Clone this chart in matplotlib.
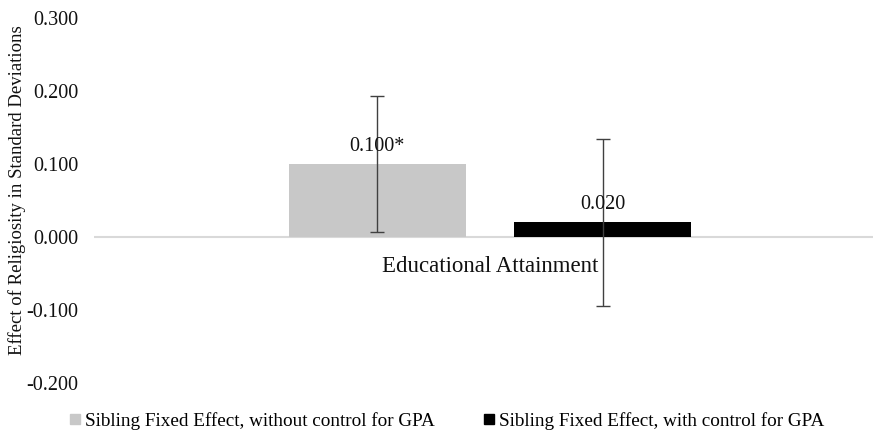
import matplotlib
matplotlib.use("Agg")
import matplotlib.pyplot as plt
from matplotlib.lines import Line2D

plt.rcParams['font.family'] = ['Liberation Serif', 'DejaVu Serif']

# Data
category = "Educational Attainment"
series = ["Sibling Fixed Effect, without control for GPA",
          "Sibling Fixed Effect, with control for GPA"]
values = [0.100, 0.020]
errors = [0.093, 0.114]
value_labels = ["0.100*", "0.020"]
colors = ["#c8c8c8", "#000000"]
yticks = [-0.2, -0.1, 0.0, 0.1, 0.2, 0.3]

fig = plt.figure(figsize=(8.75, 4.3), dpi=100)
ax = fig.add_axes([94/875, 1 - 383/430, (873 - 94)/875, (383 - 18)/430])

offsets = [-0.1445, 0.145]
width = 0.227
for off, v, e, c, lab in zip(offsets, values, errors, colors, value_labels):
    ax.bar(off, v, width=width, color=c, zorder=2)
    ax.errorbar(off, v, yerr=e, fmt='none', ecolor='#404040', elinewidth=1.0,
                capsize=5, capthick=1.0, zorder=3)
    ax.annotate(lab, (off, v), xytext=(0, 6), textcoords='offset points',
                ha='center', va='bottom', fontsize=14.5, color='#111111')

ax.axhline(0, color='#d9d9d9', linewidth=1.5, zorder=1)
ax.set_xlim(-0.508, 0.492)
ax.set_ylim(-0.2, 0.3)
ax.set_yticks(yticks)
ax.set_yticklabels([f"{t:.3f}" for t in yticks], fontsize=14.5,
                   fontfamily='Liberation Serif', color='#111111')
ax.tick_params(axis='y', length=0, pad=11)
ax.set_xticks([])
for s in ax.spines.values():
    s.set_visible(False)

ax.text(0, -0.04, category, ha='center', va='center', fontsize=16.5, color='#111111')

fig.text(17/875, 1 - 190/430, "Effect of Religiosity in Standard Deviations",
         rotation=90, ha='center', va='center', fontsize=13.5, color='#111111')

handles = [Line2D([], [], marker='s', linestyle='none', markersize=6.5,
                  markerfacecolor=c, markeredgecolor=c) for c in colors]
fig.legend(handles, series, loc='center', bbox_to_anchor=(0.509, 1 - 421/430),
           ncol=2, frameon=False, fontsize=13.8, handletextpad=0.05,
           columnspacing=2.4, handlelength=0.9)

fig.savefig("out.png", dpi=100)
